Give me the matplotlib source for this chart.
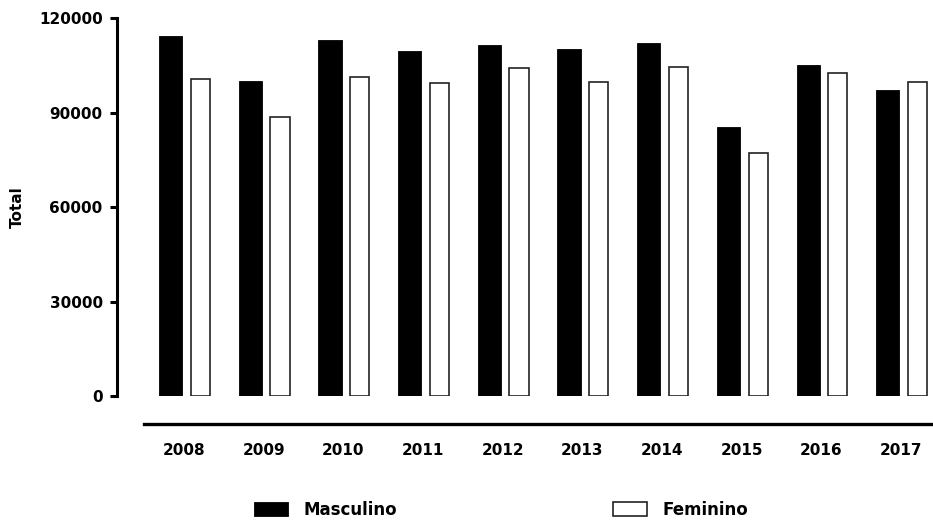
import matplotlib
matplotlib.use("Agg")
import matplotlib.pyplot as plt
from matplotlib.patches import Patch
import numpy as np

# Totals per year by sex
years = ["2008", "2009", "2010", "2011", "2012", "2013", "2014", "2015", "2016", "2017"]
masculino = [114300, 100000, 113000, 109600, 111600, 110300, 112300, 85600, 105300, 97200]
feminino = [100800, 88700, 101500, 99400, 104100, 99700, 104400, 77300, 102500, 99900]
y_ticks = [0, 30000, 60000, 90000, 120000]

plt.rcParams["font.family"] = ["DejaVu Sans"]
plt.rcParams["font.weight"] = "bold"

fig = plt.figure(figsize=(9.33, 5.25), dpi=100)
ax = fig.add_axes([0.1543, 0.2451, 0.8457, 0.72])

x = np.arange(len(years))
ax.bar(x - 0.167, masculino, width=0.292, color="black", edgecolor="black",
       linewidth=0.6, label="Masculino")
ax.bar(x + 0.205, feminino, width=0.24, color="white", edgecolor="#222222",
       linewidth=1.2, label="Feminino")

ax.set_xlim(-0.502, 9.40)
ax.set_ylim(0, 120000)
ax.set_yticks(y_ticks)
ax.set_yticklabels([str(v) for v in y_ticks])
ax.set_xticks(x)
ax.set_xticklabels(years)

for side in ("top", "right"):
    ax.spines[side].set_visible(False)
ax.spines["left"].set_position(("outward", 19.7))
ax.spines["bottom"].set_position(("outward", 20.2))
ax.spines["left"].set_linewidth(2.2)
ax.spines["bottom"].set_linewidth(2.4)

ax.tick_params(axis="y", length=5, width=2.2, pad=5, labelsize=11)
ax.tick_params(axis="x", length=0, pad=13.5, labelsize=11)
for lbl in ax.get_xticklabels() + ax.get_yticklabels():
    lbl.set_fontweight("bold")

ax.set_ylabel("Total", fontsize=11, fontweight="bold", va="center")
ax.yaxis.set_label_coords(-0.1603, 0.5)

# Legend entries placed side by side under the axis
fs = 12
common = dict(frameon=False, borderpad=0, borderaxespad=0, handlelength=2.04,
              handleheight=0.9, handletextpad=0.94, fontsize=fs,
              loc="center left", prop={"weight": "bold", "size": fs})
common.pop("fontsize")
fig.legend(handles=[Patch(facecolor="black", edgecolor="black", linewidth=0.6)],
           labels=["Masculino"], bbox_to_anchor=(254 / 933, (525 - 510) / 525), **common)
fig.legend(handles=[Patch(facecolor="white", edgecolor="#222222", linewidth=1.2)],
           labels=["Feminino"], bbox_to_anchor=(613 / 933, (525 - 510) / 525), **common)

fig.savefig("out.png", dpi=100)
